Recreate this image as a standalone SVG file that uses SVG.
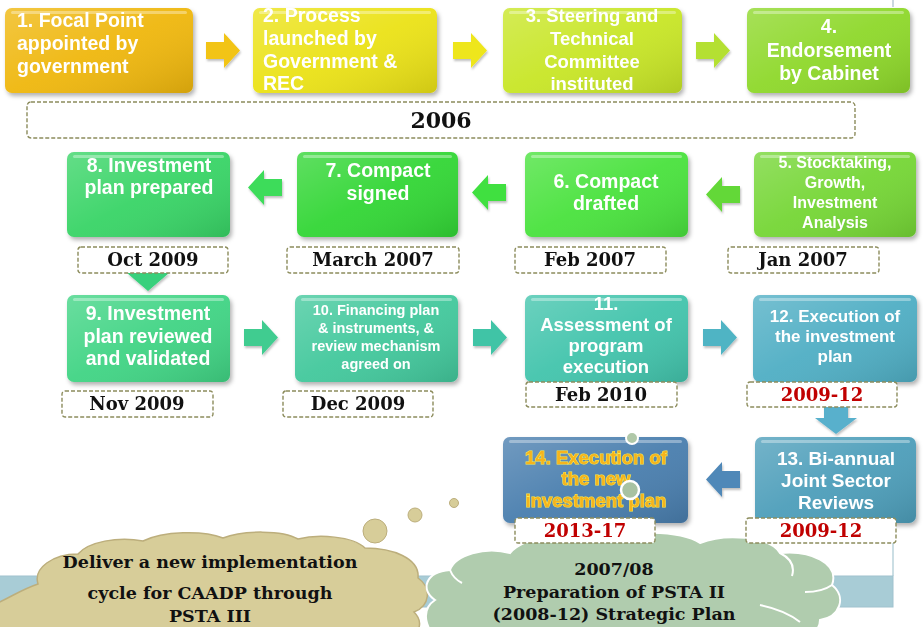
<svg xmlns="http://www.w3.org/2000/svg" xmlns:xlink="http://www.w3.org/1999/xlink" width="923" height="627" viewBox="0 0 923 627">
<style>
.box{filter:url(#sh)}
.gl{fill:url(#gloss)}
.hl{fill:#fff;opacity:.35}
.lbl{font-family:"Liberation Sans","Open Sans",sans-serif;font-weight:700;fill:#fff;text-anchor:middle}
.lft{text-anchor:start}
.dt rect{fill:#fff;stroke:#8c8c5c;stroke-width:1.4;stroke-dasharray:4 2}
.dt text{font-family:"DejaVu Serif","Liberation Serif",serif;font-weight:700;font-size:18px;text-anchor:middle;fill:#111}
.dt text.red{fill:#c00000}
.ct{font-family:"DejaVu Serif","Liberation Serif",serif;font-weight:700;font-size:17.5px;text-anchor:middle;fill:#111}
.arr{filter:url(#sh2)}
</style>
<defs>
<filter id="sh" x="-10%" y="-10%" width="125%" height="130%"><feDropShadow dx="2" dy="3" stdDeviation="2" flood-color="#000" flood-opacity="0.3"/></filter>
<filter id="sh2" x="-20%" y="-20%" width="150%" height="150%"><feDropShadow dx="1" dy="2" stdDeviation="1.2" flood-color="#000" flood-opacity="0.25"/></filter>
<linearGradient id="gloss" x1="0" y1="0" x2="1" y2="1">
<stop offset="0" stop-color="#fff" stop-opacity="0.22"/>
<stop offset="0.5" stop-color="#fff" stop-opacity="0.05"/>
<stop offset="1" stop-color="#000" stop-opacity="0.12"/>
</linearGradient>
<path id="arR" d="M0,9 H18 V0 L34,17.5 L18,35 V26 H0 Z"/>
</defs>

<g id="background">
<line x1="893" y1="0" x2="893" y2="7" stroke="#a8bccb" stroke-width="1.2"/>
<line x1="893" y1="540" x2="893" y2="576" stroke="#a8c8d2" stroke-width="1.2"/>
<rect x="-2" y="576" width="895" height="31" fill="#a8ccd6" stroke="#a0c2ce" stroke-width="1"/>
</g>

<g id="cloud-tan">
<path d="M-5,632 V604 C10,598 20,590 38,584 C33,568 53,554 78,554 C88,542 118,536 143,541 C163,531 203,530 223,538 C243,530 283,530 298,539 C318,534 353,536 365,548 C392,548 420,558 418,578 C432,588 430,606 414,612 C422,620 420,627 417,632 Z" fill="#d7cd99" stroke="#bcae7c" stroke-width="1.5"/>
<text class="ct" x="210" y="568">Deliver a new implementation</text>
<text class="ct" x="210" y="599">cycle for CAADP through</text>
<text class="ct" x="210" y="622">PSTA III</text>
</g>

<g id="cloud-green">
<path d="M440,640 C425,630 420,610 435,600 C420,590 425,572 450,570 C455,555 485,546 510,553 C525,536 570,530 600,540 C625,530 680,530 700,543 C725,533 770,536 780,553 C810,550 840,563 832,585 C847,597 840,617 820,620 C820,635 800,640 790,640 Z" fill="#b0ccae" stroke="#fff" stroke-width="2"/>
<path d="M780,553 C790,558 795,566 792,576 M832,585 C825,590 815,592 805,592 M450,570 C452,575 456,580 462,583 M760,605 C775,608 790,614 800,622" fill="none" stroke="#fff" stroke-width="2"/>
<text class="ct" x="614" y="575">2007/08</text>
<text class="ct" x="614" y="598">Preparation of PSTA II</text>
<text class="ct" x="614" y="620">(2008-12) Strategic Plan</text>
</g>

<g id="bubbles" fill="#d7cd99" stroke="#bcae7c" stroke-width="1">
<circle cx="375" cy="531" r="12"/>
<circle cx="415" cy="515" r="7"/>
<circle cx="454" cy="503" r="4.5"/>
</g>

<g id="connectors" class="arr">
<use href="#arR" x="206" y="33" fill="#f2c412"/>
<use href="#arR" x="453" y="33" fill="#eee61a"/>
<use href="#arR" x="696" y="33" fill="#b4e030"/>
<use href="#arR" transform="translate(740,177) scale(-1,1)" fill="#64d838"/>
<use href="#arR" transform="translate(506,175) scale(-1,1)" fill="#40e040"/>
<use href="#arR" transform="translate(282,170) scale(-1,1)" fill="#3cdc5a"/>
<path d="M137,258 H159 V273 H169 L148,291 L127,273 H137 Z" fill="#38d07c"/>
<use href="#arR" x="244" y="320" fill="#40cc90"/>
<use href="#arR" x="473" y="320" fill="#40c4a6"/>
<use href="#arR" x="703" y="320" fill="#50b4c4"/>
<path d="M824,400 H848 V418 H857 L836,434 L815,418 H824 Z" fill="#58b0cc"/>
<use href="#arR" transform="translate(740,462) scale(-1,1)" fill="#5088b8"/>
</g>

<g id="year2006" class="dt">
<rect x="27" y="102" width="828" height="36" rx="4"/>
<text x="441" y="128" style="font-size:22px">2006</text>
</g>

<g id="n1">
<rect class="box" x="5" y="8" width="188" height="85" rx="7" fill="#efb70f"/>
<rect class="gl" x="5" y="8" width="188" height="85" rx="7"/>
<rect class="hl" x="11" y="11" width="176" height="3" rx="1.5"/>
<text class="lbl lft" style="font-size:19.5px"><tspan x="17" y="27">1. Focal Point</tspan><tspan x="17" y="50">appointed by</tspan><tspan x="17" y="73">government</tspan></text>
</g>

<g id="n2">
<rect class="box" x="253" y="8" width="184" height="85" rx="7" fill="#ebe212"/>
<rect class="gl" x="253" y="8" width="184" height="85" rx="7"/>
<rect class="hl" x="259" y="11" width="172" height="3" rx="1.5"/>
<text class="lbl lft" style="font-size:19.5px"><tspan x="263" y="22">2. Process</tspan><tspan x="263" y="45">launched by</tspan><tspan x="263" y="68">Government &amp;</tspan><tspan x="263" y="90">REC</tspan></text>
</g>

<g id="n3">
<rect class="box" x="503" y="8" width="179" height="85" rx="7" fill="#c8e626"/>
<rect class="gl" x="503" y="8" width="179" height="85" rx="7"/>
<rect class="hl" x="509" y="11" width="167" height="3" rx="1.5"/>
<text class="lbl" style="font-size:18.5px"><tspan x="592" y="22">3. Steering and</tspan><tspan x="592" y="45">Technical</tspan><tspan x="592" y="68">Committee</tspan><tspan x="592" y="90">instituted</tspan></text>
</g>

<g id="n4">
<rect class="box" x="747" y="8" width="163" height="85" rx="7" fill="#8ed82a"/>
<rect class="gl" x="747" y="8" width="163" height="85" rx="7"/>
<rect class="hl" x="753" y="11" width="151" height="3" rx="1.5"/>
<text class="lbl" style="font-size:19.5px"><tspan x="829" y="33">4.</tspan><tspan x="829" y="57">Endorsement</tspan><tspan x="829" y="80">by Cabinet</tspan></text>
</g>

<g id="n5">
<rect class="box" x="754" y="152" width="162" height="85" rx="7" fill="#74d636"/>
<rect class="gl" x="754" y="152" width="162" height="85" rx="7"/>
<rect class="hl" x="760" y="155" width="150" height="3" rx="1.5"/>
<text class="lbl" style="font-size:16px"><tspan x="835" y="168">5. Stocktaking,</tspan><tspan x="835" y="188">Growth,</tspan><tspan x="835" y="208">Investment</tspan><tspan x="835" y="228">Analysis</tspan></text>
<g class="dt"><rect x="728" y="247" width="151" height="26" rx="3"/><text x="803" y="266">Jan 2007</text></g>
</g>

<g id="n6">
<rect class="box" x="525" y="152" width="163" height="85" rx="7" fill="#4ae23c"/>
<rect class="gl" x="525" y="152" width="163" height="85" rx="7"/>
<rect class="hl" x="531" y="155" width="151" height="3" rx="1.5"/>
<text class="lbl" style="font-size:19.5px"><tspan x="606" y="188">6. Compact</tspan><tspan x="606" y="210">drafted</tspan></text>
<g class="dt"><rect x="515" y="247" width="151" height="26" rx="3"/><text x="590" y="266">Feb 2007</text></g>
</g>

<g id="n7">
<rect class="box" x="297" y="152" width="161" height="85" rx="7" fill="#32d636"/>
<rect class="gl" x="297" y="152" width="161" height="85" rx="7"/>
<rect class="hl" x="303" y="155" width="149" height="3" rx="1.5"/>
<text class="lbl" style="font-size:19.5px"><tspan x="378" y="177">7. Compact</tspan><tspan x="378" y="200">signed</tspan></text>
<g class="dt"><rect x="287" y="247" width="172" height="26" rx="3"/><text x="373" y="266">March 2007</text></g>
</g>

<g id="n8">
<rect class="box" x="67" y="152" width="163" height="85" rx="7" fill="#38d466"/>
<rect class="gl" x="67" y="152" width="163" height="85" rx="7"/>
<rect class="hl" x="73" y="155" width="151" height="3" rx="1.5"/>
<text class="lbl" style="font-size:19.5px"><tspan x="149" y="172">8. Investment</tspan><tspan x="149" y="194">plan prepared</tspan></text>
<g class="dt"><rect x="78" y="247" width="150" height="26" rx="3"/><text x="153" y="266">Oct 2009</text></g>
</g>

<g id="n9">
<rect class="box" x="67" y="295" width="163" height="87" rx="7" fill="#40d484"/>
<rect class="gl" x="67" y="295" width="163" height="87" rx="7"/>
<rect class="hl" x="73" y="298" width="151" height="3" rx="1.5"/>
<text class="lbl" style="font-size:19.5px"><tspan x="148" y="320">9. Investment</tspan><tspan x="148" y="343">plan reviewed</tspan><tspan x="148" y="365">and validated</tspan></text>
<g class="dt"><rect x="62" y="391" width="151" height="26" rx="3"/><text x="137" y="410">Nov 2009</text></g>
</g>

<g id="n10">
<rect class="box" x="295" y="295" width="163" height="87" rx="7" fill="#42c89c"/>
<rect class="gl" x="295" y="295" width="163" height="87" rx="7"/>
<rect class="hl" x="301" y="298" width="151" height="3" rx="1.5"/>
<text class="lbl" style="font-size:14.5px"><tspan x="376" y="315">10. Financing plan</tspan><tspan x="376" y="333">&amp; instruments, &amp;</tspan><tspan x="376" y="351">review mechanism</tspan><tspan x="376" y="369">agreed on</tspan></text>
<g class="dt"><rect x="283" y="391" width="150" height="26" rx="3"/><text x="358" y="410">Dec 2009</text></g>
</g>

<g id="n11">
<rect class="box" x="525" y="295" width="163" height="87" rx="7" fill="#42c4ac"/>
<rect class="gl" x="525" y="295" width="163" height="87" rx="7"/>
<rect class="hl" x="531" y="298" width="151" height="3" rx="1.5"/>
<text class="lbl" style="font-size:18.5px"><tspan x="606" y="310">11.</tspan><tspan x="606" y="331">Assessment of</tspan><tspan x="606" y="352">program</tspan><tspan x="606" y="373">execution</tspan></text>
<g class="dt"><rect x="526" y="382" width="151" height="25" rx="3"/><text x="601" y="401">Feb 2010</text></g>
</g>

<g id="n12">
<rect class="box" x="753" y="295" width="164" height="87" rx="7" fill="#50aec4"/>
<rect class="gl" x="753" y="295" width="164" height="87" rx="7"/>
<rect class="hl" x="759" y="298" width="152" height="3" rx="1.5"/>
<text class="lbl" style="font-size:17px"><tspan x="835" y="322">12. Execution of</tspan><tspan x="835" y="342">the investment</tspan><tspan x="835" y="362">plan</tspan></text>
<g class="dt"><rect x="747" y="382" width="150" height="25" rx="3"/><text class="red" x="822" y="401">2009-12</text></g>
</g>

<g id="n13">
<rect class="box" x="755" y="437" width="161" height="86" rx="7" fill="#4e9eba"/>
<rect class="gl" x="755" y="437" width="161" height="86" rx="7"/>
<rect class="hl" x="761" y="440" width="149" height="3" rx="1.5"/>
<text class="lbl" style="font-size:19px"><tspan x="836" y="465">13. Bi-annual</tspan><tspan x="836" y="487">Joint Sector</tspan><tspan x="836" y="509">Reviews</tspan></text>
<g class="dt"><rect x="746" y="518" width="150" height="25" rx="3"/><text class="red" x="821" y="537">2009-12</text></g>
</g>

<g id="n14">
<rect class="box" x="503" y="437" width="185" height="86" rx="7" fill="#4a7eae"/>
<rect class="gl" x="503" y="437" width="185" height="86" rx="7"/>
<rect class="hl" x="509" y="440" width="173" height="3" rx="1.5"/>
<text class="lbl" style="font-size:18.5px;fill:#f6b41c;stroke:#ffec4a;stroke-width:1.1;paint-order:stroke"><tspan x="596" y="464">14. Execution of</tspan><tspan x="596" y="485">the new</tspan><tspan x="596" y="507">investment plan</tspan></text>
<circle cx="632" cy="438" r="6" fill="#b0c8a8" stroke="#fff" stroke-width="2"/>
<circle cx="630" cy="490" r="9" fill="#a8c2a2" stroke="#fff" stroke-width="2.5"/>
<g class="dt"><rect x="515" y="518" width="140" height="25" rx="3"/><text class="red" x="585" y="537">2013-17</text></g>
</g>
</svg>
